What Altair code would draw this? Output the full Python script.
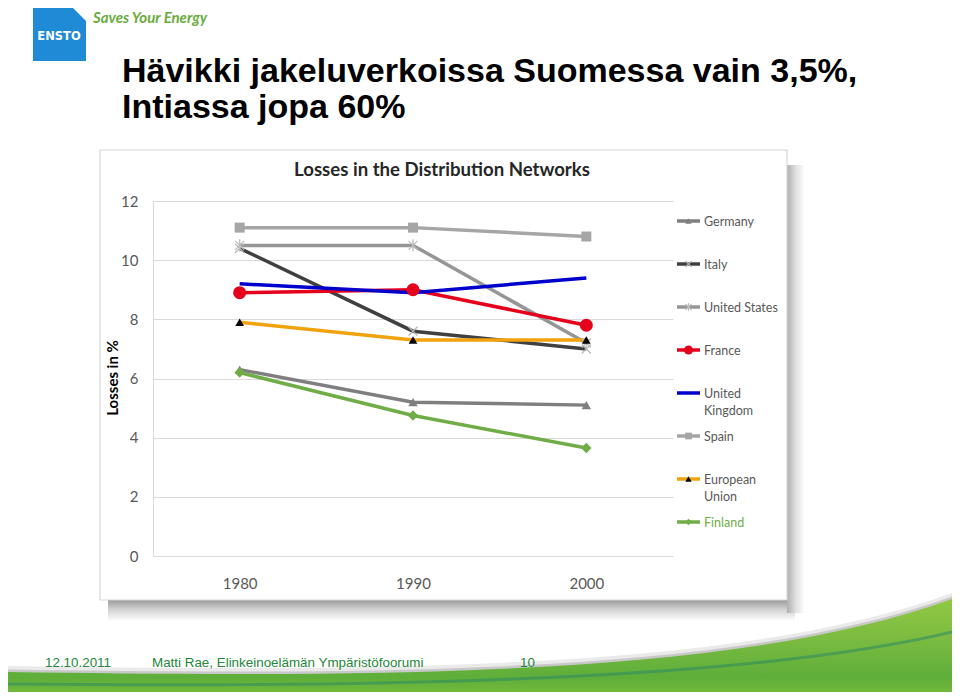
import altair as alt
import pandas as pd

# ---------------- data ----------------
YEARS = ["1980", "1990", "2000"]
SERIES = ["Germany", "Italy", "United States", "France",
          "United Kingdom", "Spain", "European Union", "Finland"]
GERMANY = [6.3, 5.2, 5.1]
ITALY = [10.4, 7.6, 7.0]
UNITED_STATES = [10.5, 10.5, 7.2]
FRANCE = [8.9, 9.0, 7.8]
UNITED_KINGDOM = [9.2, 8.9, 9.4]
SPAIN = [11.1, 11.1, 10.8]
EUROPEAN_UNION = [7.9, 7.3, 7.3]
FINLAND = [6.2, 4.75, 3.65]
Y_TICKS = [0, 2, 4, 6, 8, 10, 12]
LEGEND_LABELS = [["Germany"], ["Italy"], ["United States"], ["France"],
                 ["United", "Kingdom"], ["Spain"], ["European", "Union"], ["Finland"]]

VALUES = [GERMANY, ITALY, UNITED_STATES, FRANCE,
          UNITED_KINGDOM, SPAIN, EUROPEAN_UNION, FINLAND]

df = pd.DataFrame(
    [{"series": s, "year": y, "value": v}
     for s, vals in zip(SERIES, VALUES) for y, v in zip(YEARS, vals)]
)
one = pd.DataFrame({"k": [0]})

# ---------------- styles ----------------
X_PATH = "M-1,-1L1,1M-1,1L1,-1"
STAR_PATH = "M-1,-1L1,1M-1,1L1,-1M0,-1.35L0,1.35"
STYLE = {
    "Germany":        dict(color="#7f7f7f", shape="triangle-up", mcolor="#7f7f7f", filled=True,  size=90,  lsize=40),
    "Italy":          dict(color="#404040", shape=X_PATH,        mcolor="#b3b3b3", filled=False, size=80,  lsize=36),
    "United States":  dict(color="#969696", shape=STAR_PATH,     mcolor="#bdbdbd", filled=False, size=80,  lsize=36),
    "France":         dict(color="#e5001c", shape="circle",      mcolor="#e5001c", filled=True,  size=170, lsize=80),
    "United Kingdom": dict(color="#0000cc", shape=None,          mcolor=None,      filled=True,  size=0,   lsize=0),
    "Spain":          dict(color="#a6a6a6", shape="square",      mcolor="#a6a6a6", filled=True,  size=100, lsize=45),
    "European Union": dict(color="#f0a30c", shape="triangle-up", mcolor="#000000", filled=True,  size=75,  lsize=40),
    "Finland":        dict(color="#70ad47", shape="diamond",     mcolor="#70ad47", filled=True,  size=110, lsize=45),
}
LABEL_COLOR = {"Finland": "#70ad47"}
FONT = "Lato"

W, H = 520, 355
LEG_X1, LEG_X2, LEG_TX = 524, 547, 551
LEG_Y = [20, 63, 106, 149, 192, 235, 278, 321]

x_enc = alt.X("year:O", scale=alt.Scale(type="point", padding=0.5),
              axis=alt.Axis(title=None, ticks=False, domain=False, grid=False,
                            labelAngle=0, labelFont=FONT, labelFontSize=15,
                            labelColor="#595959", labelPadding=20))
y_enc = alt.Y("value:Q", scale=alt.Scale(domain=[0, 12], nice=False, zero=True),
              axis=alt.Axis(title=None, values=Y_TICKS, ticks=False, domain=True,
                            domainColor="#d9d9d9", gridColor="#d9d9d9",
                            labelFont=FONT, labelFontSize=15, labelColor="#595959",
                            labelPadding=15))

layers = []

# ---------------- decorations ----------------
def grad(stops, horizontal=False):
    return alt.Gradient(gradient="linear",
                        stops=[alt.GradientStop(color=c, offset=o) for o, c in stops],
                        x1=0, y1=0, x2=1 if horizontal else 0, y2=0 if horizontal else 1)

# chart box shadow
layers.append(alt.Chart(one).mark_rect(
    fill=grad([(0, "#9a9a9a"), (0.45, "#d2d2d2"), (1, "#ffffff")])).encode(
    x=alt.value(-45), x2=alt.value(642), y=alt.value(399), y2=alt.value(420)))
layers.append(alt.Chart(one).mark_rect(
    fill=grad([(0, "#b0b0b0"), (0.5, "#e0e0e0"), (1, "#ffffff")], horizontal=True)).encode(
    x=alt.value(634), x2=alt.value(652), y=alt.value(-36), y2=alt.value(412)))
# chart box
layers.append(alt.Chart(one).mark_rect(fillOpacity=0, stroke="#d6d6d6", strokeWidth=1.2).encode(
    x=alt.value(-53), x2=alt.value(634), y=alt.value(-51), y2=alt.value(399)))

# swoosh
SWOOSH = "M0,-28C400,-22 750,-24 960,-104L975,-104L975,12L-12,12Z"
STREAK = "M0,-16C400,-12 760,-20 960,-70"
layers.append(alt.Chart(one).mark_point(shape=SWOOSH, filled=True, fill="#c4c4c4", opacity=0.35,
                                        strokeWidth=0).encode(
    x=alt.value(-153), y=alt.value(493), size=alt.value(4)))
layers.append(alt.Chart(one).mark_point(shape=SWOOSH, filled=True, fill="#b0b0b0", opacity=0.6,
                                        strokeWidth=0).encode(
    x=alt.value(-153), y=alt.value(496.5), size=alt.value(4)))
layers.append(alt.Chart(one).mark_point(
    shape=SWOOSH, filled=True, opacity=1, strokeWidth=0,
    fill=grad([(0, "#93c942"), (0.35, "#7cbc41"), (0.7, "#5eae3a"), (1, "#8cc63f")])).encode(
    x=alt.value(-153), y=alt.value(499), size=alt.value(4)))
layers.append(alt.Chart(one).mark_point(shape=STREAK, filled=False, stroke="#2d8a63",
                                        strokeWidth=3, opacity=0.55).encode(
    x=alt.value(-153), y=alt.value(499), size=alt.value(4)))

# logo
LOGO = "M0,0L40,0L53,13L53,53L0,53Z"
layers.append(alt.Chart(one).mark_point(shape=LOGO, filled=True, fill="#1f8ad6", opacity=1,
                                        strokeWidth=0).encode(
    x=alt.value(-120), y=alt.value(-193), size=alt.value(4)))
layers.append(alt.Chart(one).mark_text(font="DejaVu Sans", fontWeight="bold", fontSize=11.5,
                                       color="white", align="center", baseline="middle").encode(
    x=alt.value(-94), y=alt.value(-164), text=alt.value("ENSTO")))
layers.append(alt.Chart(one).mark_text(font=FONT, fontWeight="bold", fontStyle="italic", fontSize=15,
                                       color="#6aab3e", align="left", baseline="middle").encode(
    x=alt.value(-60), y=alt.value(-183), text=alt.value("Saves Your Energy")))

# slide title
for txt, yy in [("Hävikki jakeluverkoissa Suomessa vain 3,5%,", -119),
                ("Intiassa jopa 60%", -83)]:
    layers.append(alt.Chart(one).mark_text(font="Liberation Sans", fontWeight="bold", fontSize=34,
                                           color="#000000", align="left", baseline="alphabetic").encode(
        x=alt.value(-31), y=alt.value(yy), text=alt.value(txt)))

# footer
for txt, xx in [("12.10.2011", -108), ("Matti Rae, Elinkeinoelämän Ympäristöfoorumi", -1), ("10", 367)]:
    layers.append(alt.Chart(one).mark_text(font="Liberation Sans Narrow, Liberation Sans", fontSize=13.4,
                                           color="#23883a", align="left", baseline="alphabetic").encode(
        x=alt.value(xx), y=alt.value(466), text=alt.value(txt)))

# chart title & y title
layers.append(alt.Chart(one).mark_text(font=FONT, fontWeight="bold", fontSize=18.6, color="#262626",
                                       align="center", baseline="middle").encode(
    x=alt.value(289), y=alt.value(-31), text=alt.value("Losses in the Distribution Networks")))
layers.append(alt.Chart(one).mark_text(font=FONT, fontWeight="bold", fontSize=15, color="#000000",
                                       align="center", baseline="middle", angle=270).encode(
    x=alt.value(-40), y=alt.value(177), text=alt.value("Losses in %")))

# ---------------- data marks ----------------
base = alt.Chart(df)
layers.append(base.mark_line(strokeWidth=3.5).encode(
    x=x_enc, y=y_enc,
    color=alt.Color("series:N", scale=alt.Scale(domain=SERIES, range=[STYLE[s]["color"] for s in SERIES]),
                    legend=None),
    detail="series:N"))

for s in SERIES:
    st = STYLE[s]
    if st["shape"] is None:
        continue
    kw = dict(shape=st["shape"], size=st["size"], opacity=1, filled=st["filled"])
    if st["filled"]:
        kw.update(fill=st["mcolor"], strokeWidth=0)
    else:
        kw.update(stroke=st["mcolor"], strokeWidth=1.3)
    layers.append(base.transform_filter(alt.datum.series == s).mark_point(**kw).encode(x=x_enc, y=y_enc))

# ---------------- legend ----------------
for s, lab, ly in zip(SERIES, LEGEND_LABELS, LEG_Y):
    st = STYLE[s]
    layers.append(alt.Chart(one).mark_rule(strokeWidth=3.5, color=st["color"]).encode(
        x=alt.value(LEG_X1), x2=alt.value(LEG_X2), y=alt.value(ly)))
    if st["shape"] is not None:
        kw = dict(shape=st["shape"], opacity=1, filled=st["filled"])
        if st["filled"]:
            kw.update(fill=st["mcolor"], strokeWidth=0)
        else:
            kw.update(stroke=st["mcolor"], strokeWidth=1.1)
        layers.append(alt.Chart(one).mark_point(**kw).encode(
            x=alt.value((LEG_X1 + LEG_X2) / 2), y=alt.value(ly), size=alt.value(st["lsize"])))
    layers.append(alt.Chart(one).mark_text(font=FONT, fontSize=12.5, color=LABEL_COLOR.get(s, "#595959"),
                                           align="left", baseline="alphabetic", lineHeight=17).encode(
        x=alt.value(LEG_TX), y=alt.value(ly + 4.5),
        text=alt.value(lab if len(lab) > 1 else lab[0])))

chart = alt.layer(*layers).properties(
    width=W, height=H,
    autosize=alt.AutoSizeParams(type="none"),
    padding={"left": 145, "top": 193, "right": 279, "bottom": 136},
    background="white",
).configure_view(stroke=None)

chart.save("out.html", embed_options={"renderer": "svg", "actions": False})
